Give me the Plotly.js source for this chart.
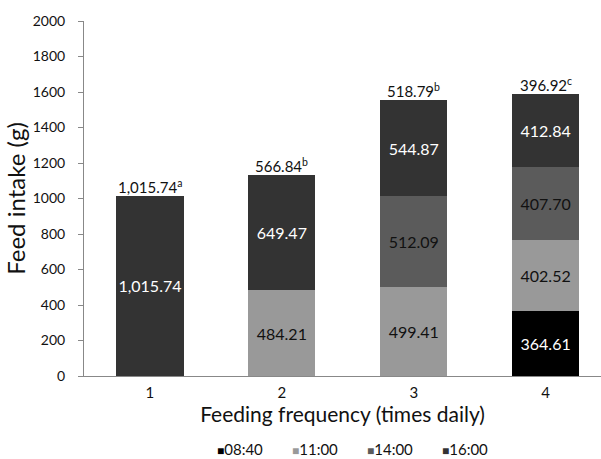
<!DOCTYPE html>
<html><head><meta charset="utf-8">
<script src="https://cdn.plot.ly/plotly-3.0.1.min.js"></script>
<style>html,body{margin:0;padding:0;background:#fff}#chart{width:601px;height:459px}</style>
</head><body><div id="chart"></div>
<script>
const categories = ["1", "2", "3", "4"];
const times = ["08:40", "11:00", "14:00", "16:00"];
const s0840 = [null, null, null, 364.61];
const s1100 = [null, 484.21, 499.41, 402.52];
const s1400 = [null, null, 512.09, 407.70];
const s1600 = [1015.74, 649.47, 544.87, 412.84];
const topValues = [1015.74, 566.84, 518.79, 396.92];
const topLetters = ["a", "b", "b", "c"];
const yTicks = [0, 200, 400, 600, 800, 1000, 1200, 1400, 1600, 1800, 2000];

const series = [s0840, s1100, s1400, s1600];
const colors = ["#000000", "#999999", "#5b5b5b", "#333333"];
const textColors = ["#ffffff", "#111111", "#111111", "#ffffff"];
const FONT = "Lato, sans-serif";

const traces = series.map((s, i) => ({
  type: "bar", name: times[i], x: categories, y: s,
  marker: {color: colors[i], line: {width: 0}},
  width: 0.51, showlegend: false,
  texttemplate: "%{y:,.2f}", textposition: "inside", insidetextanchor: "middle", textangle: 0,
  textfont: {family: FONT, size: 16, color: textColors[i]},
  constraintext: "none", hoverinfo: "skip"
}));

const totals = categories.map((c, k) => series.reduce((a, s) => a + (s[k] || 0), 0));
const fmt = v => v.toLocaleString("en-US", {minimumFractionDigits: 2, maximumFractionDigits: 2});
const annotations = categories.map((c, k) => ({
  x: k, y: totals[k], xref: "x", yref: "y", yanchor: "bottom", showarrow: false,
  text: fmt(topValues[k]) + "<sup>" + topLetters[k] + "</sup>",
  font: {family: FONT, size: 15, color: "#111"}, yshift: -2
}));
// legend row (small square + label)
const legendX0 = 0.253, legendStep = 0.145;
times.forEach((t, i) => annotations.push({
  x: legendX0 + i * legendStep, y: -0.205, xref: "paper", yref: "paper",
  xanchor: "left", yanchor: "middle", showarrow: false,
  text: "<span style='color:" + colors[i] + ";font-size:12px'>■</span>" + t,
  font: {family: FONT, size: 15, color: "#111"}
}));

const layout = {
  width: 601, height: 459,
  margin: {l: 84, r: 0, t: 21, b: 83, autoexpand: false},
  barmode: "stack",
  paper_bgcolor: "#fff", plot_bgcolor: "#fff",
  font: {family: FONT, color: "#111"},
  showlegend: false,
  xaxis: {type: "category", range: [-0.5, 3.42], showline: true, linecolor: "#888", linewidth: 1,
    ticks: "", tickfont: {family: FONT, size: 15}, showgrid: false, zeroline: false, ticklabelstandoff: 3,
    title: {text: "Feeding frequency (times daily)", font: {family: FONT, size: 21}, standoff: 5}},
  yaxis: {range: [0, 2000], tickvals: yTicks, ticks: "outside", ticklen: 5, tickcolor: "#888",
    showline: true, linecolor: "#888", linewidth: 1, showgrid: false, zeroline: false,
    tickfont: {family: FONT, size: 14}, ticklabelstandoff: 10,
    title: {text: "Feed intake (g)", font: {family: FONT, size: 24}, standoff: 0}},
  annotations: annotations
};
Plotly.newPlot("chart", traces, layout, {staticPlot: true, displayModeBar: false});
</script></body></html>
